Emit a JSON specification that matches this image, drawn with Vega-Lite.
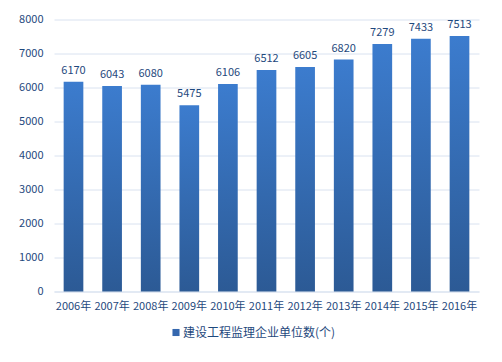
{
  "$schema": "https://vega.github.io/schema/vega-lite/v6.json",
  "width": 425,
  "height": 272,
  "autosize": {"type": "none"},
  "padding": {"left": 54, "top": 19.5, "right": 23, "bottom": 70.5},
  "background": "white",
  "config": {
    "view": {"stroke": null},
    "font": "Noto Sans CJK SC",
    "axis": {"labelFont": "Noto Sans CJK SC", "labelColor": "#1F497D", "labelFontSize": 11},
    "legend": {"labelFont": "Noto Sans CJK SC", "labelColor": "#1F497D", "labelFontSize": 12}
  },
  "data": {
    "values": [
      {"year": "2006年", "value": 6170, "series": "建设工程监理企业单位数(个)"},
      {"year": "2007年", "value": 6043, "series": "建设工程监理企业单位数(个)"},
      {"year": "2008年", "value": 6080, "series": "建设工程监理企业单位数(个)"},
      {"year": "2009年", "value": 5475, "series": "建设工程监理企业单位数(个)"},
      {"year": "2010年", "value": 6106, "series": "建设工程监理企业单位数(个)"},
      {"year": "2011年", "value": 6512, "series": "建设工程监理企业单位数(个)"},
      {"year": "2012年", "value": 6605, "series": "建设工程监理企业单位数(个)"},
      {"year": "2013年", "value": 6820, "series": "建设工程监理企业单位数(个)"},
      {"year": "2014年", "value": 7279, "series": "建设工程监理企业单位数(个)"},
      {"year": "2015年", "value": 7433, "series": "建设工程监理企业单位数(个)"},
      {"year": "2016年", "value": 7513, "series": "建设工程监理企业单位数(个)"}
    ]
  },
  "encoding": {
    "x": {
      "field": "year", "type": "nominal", "sort": null,
      "scale": {"paddingInner": 0.49, "paddingOuter": 0.25},
      "axis": {"title": null, "labelAngle": 0, "domainColor": "#D9E2F0", "ticks": false, "labelPadding": 9, "grid": false}
    },
    "y": {
      "field": "value", "type": "quantitative",
      "scale": {"domain": [0, 8000]},
      "axis": {"title": null, "values": [0,1000,2000,3000,4000,5000,6000,7000,8000], "domain": false, "ticks": false, "labelPadding": 11, "gridColor": "#D9E2F0", "format": "d"}
    }
  },
  "layer": [
    {
      "mark": {
        "type": "bar",
        "fill": {
          "gradient": "linear", "x1": 0, "y1": 0, "x2": 0, "y2": 1,
          "stops": [{"offset": 0, "color": "#3C7CCE"}, {"offset": 1, "color": "#2C5A95"}]
        }
      }
    },
    {
      "mark": {"type": "point", "filled": true, "size": 0, "opacity": 1},
      "encoding": {
        "color": {
          "field": "series", "type": "nominal",
          "scale": {"range": ["#3567AE"]},
          "legend": {"title": null, "orient": "none", "legendX": 116, "legendY": 307, "direction": "horizontal", "symbolType": "square", "symbolSize": 50, "symbolOpacity": 1, "labelLimit": 300, "labelOffset": 1}
        }
      }
    },
    {
      "mark": {"type": "text", "baseline": "bottom", "dy": -6, "fontSize": 11, "color": "#1F497D", "font": "Noto Sans CJK SC"},
      "encoding": {"text": {"field": "value", "type": "quantitative", "format": "d"}}
    }
  ]
}
